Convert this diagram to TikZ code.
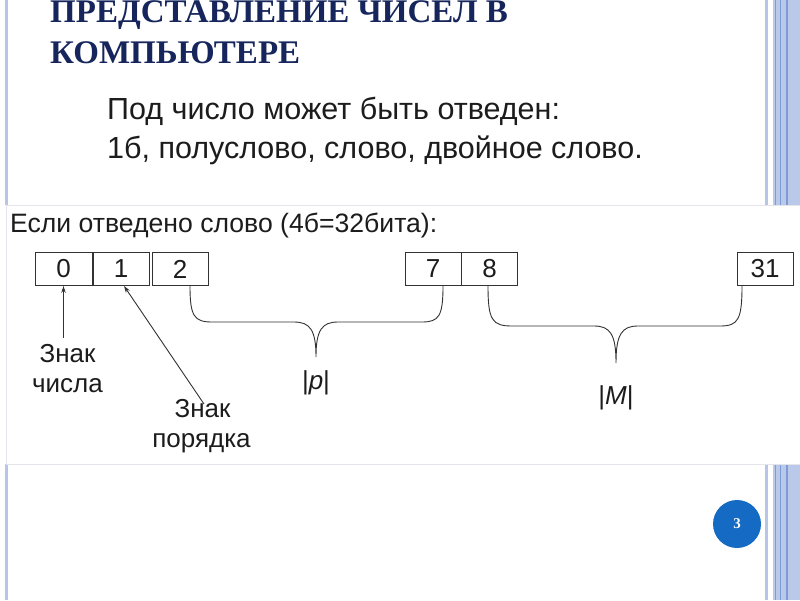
\documentclass[tikz,border=0pt]{standalone}
\usepackage{fontspec}
\setmainfont{Liberation Sans}
\newfontfamily\titlefont{Liberation Serif}
\usetikzlibrary{arrows.meta,calc}
\definecolor{navy}{RGB}{22,38,92}
\definecolor{textc}{RGB}{28,28,28}
\definecolor{linegray}{RGB}{50,50,50}
\definecolor{stripel}{RGB}{183,198,230}
\definecolor{stripeb}{RGB}{186,201,233}
\definecolor{striped}{RGB}{125,155,212}
\definecolor{pnblue}{RGB}{21,107,196}
\definecolor{edgegray}{RGB}{228,228,234}
\begin{document}
\begin{tikzpicture}[x=1pt,y=-1pt,
  cell/.style={draw=linegray, line width=0.9pt, minimum width=56pt, minimum height=33pt, inner sep=0pt, font=\fontsize{26}{26}\selectfont, text=textc},
  lbl/.style={font=\fontsize{26}{30}\selectfont, text=textc, inner sep=0pt, anchor=base},
  para/.style={font=\fontsize{30.5}{36}\selectfont, text=textc, inner sep=0pt, anchor=base west},
  ttl/.style={font=\titlefont\bfseries\fontsize{33}{40}\selectfont, text=navy, inner sep=0pt, anchor=base west},
  conn/.style={draw=linegray, line width=0.9pt},
  tipped/.style={-{Stealth[length=7pt,width=4.5pt]}}
]
\useasboundingbox (0,0) rectangle (800,600);
\fill[white] (0,0) rectangle (800,600);
% side decorations
\fill[stripel] (5,0) rectangle (8,205);
\fill[stripel] (5,464) rectangle (8,600);
\fill[stripel] (765,0) rectangle (768,205);
\fill[stripel] (765,464) rectangle (768,600);
\fill[stripeb] (773,0) rectangle (800,205);
\fill[stripeb] (773,464) rectangle (800,600);
\foreach \xx in {775.5,780.5,787} {
  \draw[striped, line width=1.1pt] (\xx,0) -- (\xx,205);
  \draw[striped, line width=1.1pt] (\xx,464) -- (\xx,600);
}
% pasted picture area
\draw[edgegray, line width=0.8pt, fill=white] (6,205) rectangle (800,464);

% title
\node[ttl] (t1) at (50,22) {ПРЕДСТАВЛЕНИЕ ЧИСЕЛ В};
\node[ttl] (t2) at (50,63) {КОМПЬЮТЕРЕ};

% text
\node[para] (p1) at (107,119) {Под число может быть отведен:};
\node[para] (p2) at (107,158) {1б, полуслово, слово, двойное слово.};
\node[font=\fontsize{26.6}{30}\selectfont, text=textc, inner sep=0pt, anchor=base west] (p3) at (10,232) {Если отведено слово (4б=32бита):};

% cells
\node[cell, minimum width=57pt] (b0) at (63.5,269) {0};
\node[cell] (b1) at (121,269) {1};
\node[cell] (b2) at (180,269) {2};
\node[cell] (b7) at (433,269) {7};
\node[cell] (b8) at (489.5,269) {8};
\node[cell] (b31) at (765,269) {31};

% labels
\node[lbl] (zn1) at (67.5,362) {Знак};
\node[lbl] (ch1) at (67.5,392) {числа};
\node[lbl] (zn2) at (202.5,417) {Знак};
\node[lbl] (po2) at (201.5,447) {порядка};
\node[lbl] (lp) at (316,389) {|\textit{p}|};
\node[lbl] (lm) at (616,404) {|\textit{M}|};

% arrows
\coordinate (a1) at ($(zn1.north -| b0.south)+(0,-6)$);
\draw[conn, tipped] (a1) -- (b0.south);
\coordinate (a2) at (204,404);
\coordinate (b1t) at ($(b1.south)+(3,0)$);
\draw[conn, tipped] (a2) -- (b1t);

% braces
\coordinate (br1l) at ($(b2.south)+(10,0)$);
\coordinate (br1r) at ($(b7.south)+(10,0)$);
\draw[conn] (br1l) .. controls (190,316) and (194,322) .. (212,322)
  -- (294,322) .. controls (310,322) and (316,330) .. (316,357)
  .. controls (316,330) and (322,322) .. (338,322)
  -- (422,322) .. controls (439,322) and (443,316) .. (br1r);
\coordinate (br2l) at ($(b8.south)+(-1.5,0)$);
\coordinate (br2r) at ($(b31.south)+(-23,0)$);
\draw[conn] (br2l) .. controls (488,320) and (492,326) .. (512,326)
  -- (594,326) .. controls (610,326) and (616,334) .. (616,363)
  .. controls (616,334) and (622,326) .. (638,326)
  -- (720,326) .. controls (738,326) and (742,320) .. (br2r);

% page number
\node[circle, fill=pnblue, minimum size=48pt, inner sep=0pt, text=white, font=\titlefont\bfseries\fontsize{15}{15}\selectfont] (pn) at (737,524) {3};
\end{tikzpicture}
\end{document}
